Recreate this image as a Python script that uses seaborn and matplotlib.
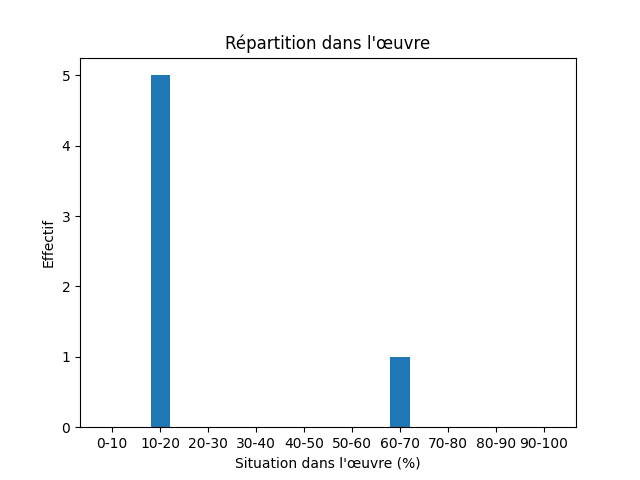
import matplotlib
matplotlib.use("Agg")
import matplotlib.pyplot as plt
import seaborn as sns
import pandas as pd

categories = ["0-10", "10-20", "20-30", "30-40", "40-50", "50-60", "60-70", "70-80", "80-90", "90-100"]
counts = [0, 5, 0, 0, 0, 0, 1, 0, 0, 0]

df = pd.DataFrame({"cat": categories, "n": counts})

fig, ax = plt.subplots(figsize=(6.4, 4.8), dpi=100)
sns.barplot(data=df, x="cat", y="n", order=categories, color="#1f77b4",
            saturation=1, width=0.4, ax=ax, linewidth=0)
ax.set_xlim(-0.67, 9.67)
ax.set_ylim(0, 5.25)
ax.set_title("Répartition dans l'œuvre")
ax.set_xlabel("Situation dans l'œuvre (%)")
ax.set_ylabel("Effectif")
fig.savefig("out.png", dpi=100)
